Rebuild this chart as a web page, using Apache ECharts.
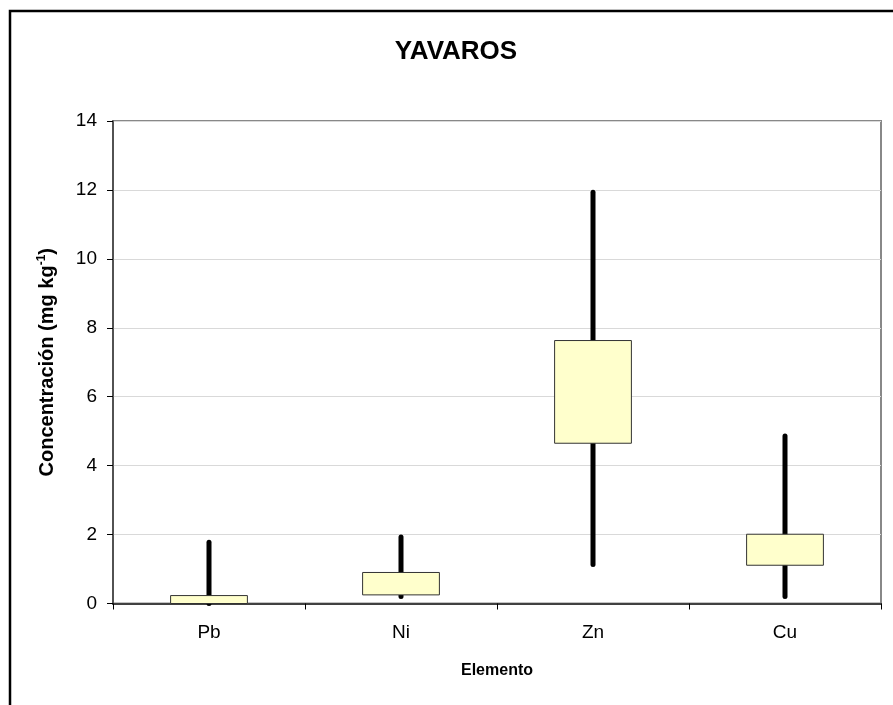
<!DOCTYPE html>
<html>
<head>
<meta charset="utf-8">
<script src="https://cdn.jsdelivr.net/npm/echarts@6/dist/echarts.min.js"></script>
<style>html,body{margin:0;padding:0;background:#fff;}#c{width:893px;height:705px;}</style>
</head>
<body>
<div id="c"></div>
<script>
var categories = ['Pb', 'Ni', 'Zn', 'Cu'];
var whiskerLow = [0, 0.2, 1.13, 0.2];
var boxLow = [0, 0.25, 4.65, 1.11];
var boxHigh = [0.23, 0.9, 7.63, 2.01];
var whiskerHigh = [1.78, 1.93, 11.93, 4.86];
var yTicks = [0, 2, 4, 6, 8, 10, 12, 14];

var data = categories.map(function (c, i) {
  return [i, whiskerLow[i], boxLow[i], boxHigh[i], whiskerHigh[i]];
});

var font = 'Liberation Sans, Arial, sans-serif';
var chart = echarts.init(document.getElementById('c'), null, {renderer: 'canvas'});
chart.setOption({
  animation: false,
  backgroundColor: '#fff',
  title: {
    text: 'YAVAROS', left: 451, top: 34, textAlign: 'center',
    textStyle: {fontFamily: font, fontWeight: 'bold', fontSize: 26, color: '#000'}
  },
  graphic: [{
    type: 'rect', z: 100, silent: true,
    shape: {x: 10, y: 11, width: 900, height: 760},
    style: {fill: null, stroke: '#000', lineWidth: 2.5}
  }],
  grid: {left: 113, top: 121, right: 12, bottom: 101.5, show: true, borderColor: '#888', borderWidth: 2, backgroundColor: '#fff'},
  xAxis: {
    type: 'category', data: categories, boundaryGap: true,
    name: 'Elemento', nameLocation: 'middle', nameGap: 59,
    nameTextStyle: {fontFamily: font, fontWeight: 'bold', fontSize: 16, color: '#000'},
    axisLine: {lineStyle: {color: '#404040', width: 2}},
    axisTick: {show: true, length: 6, lineStyle: {color: '#000', width: 1}},
    axisLabel: {fontFamily: font, fontSize: 19, color: '#000', margin: 20},
    splitLine: {show: false}
  },
  yAxis: {
    type: 'value', min: yTicks[0], max: yTicks[yTicks.length - 1], interval: 2,
    name: 'Concentración (mg kg{sup|-1})', nameLocation: 'middle', nameGap: 55, nameRotate: 90,
    nameTextStyle: {fontFamily: font, fontWeight: 'bold', fontSize: 20, color: '#000',
      rich: {sup: {fontFamily: font, fontWeight: 'bold', fontSize: 12, color: '#000', verticalAlign: 'top', padding: [0, 0, 10, 0]}}},
    axisLine: {show: true, lineStyle: {color: '#404040', width: 1.5}},
    axisTick: {show: true, length: 6, lineStyle: {color: '#000', width: 1}},
    axisLabel: {fontFamily: font, fontSize: 19, color: '#000', margin: 16},
    splitLine: {show: true, lineStyle: {color: '#d9d9d9', width: 1}}
  },
  series: [{
    type: 'custom',
    data: data,
    encode: {x: 0, y: [1, 2, 3, 4]},
    renderItem: function (params, api) {
      var x = api.value(0);
      var lo = api.coord([x, api.value(1)]);
      var q1 = api.coord([x, api.value(2)]);
      var q3 = api.coord([x, api.value(3)]);
      var hi = api.coord([x, api.value(4)]);
      var bw = api.size([1, 0])[0] * 0.4;
      return {
        type: 'group',
        children: [{
          type: 'line',
          shape: {x1: lo[0], y1: lo[1], x2: hi[0], y2: hi[1]},
          style: {stroke: '#000', lineWidth: 5, lineCap: 'round'}
        }, {
          type: 'rect',
          shape: {x: q1[0] - bw / 2, y: q3[1], width: bw, height: q1[1] - q3[1]},
          style: {fill: '#ffffcc', stroke: '#333', lineWidth: 1}
        }]
      };
    }
  }]
});
</script>
</body>
</html>
